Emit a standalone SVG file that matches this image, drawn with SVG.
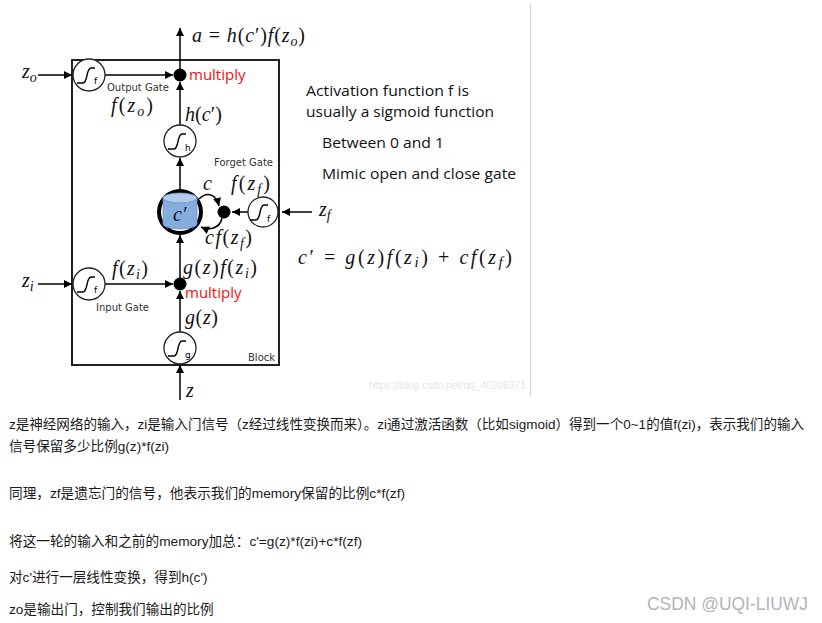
<svg xmlns="http://www.w3.org/2000/svg" width="822" height="623" viewBox="0 0 822 623">
<style>
.ln{stroke:#000;stroke-width:1.5;fill:none}
.gc{fill:#fff;stroke:#222;stroke-width:1.3}
.sg{fill:none;stroke:#000;stroke-width:1.4}
.sub{font-family:"DejaVu Sans","Liberation Sans",sans-serif;font-size:9px;fill:#000}
.m{font-family:"Liberation Serif","DejaVu Serif",serif;font-size:20px;fill:#111}
.mi{font-style:italic}
.lab{font-family:"DejaVu Sans","Liberation Sans",sans-serif;font-size:10px;fill:#333}
.red{font-family:"Open Sans","Liberation Sans",sans-serif;font-size:15px;fill:#f01010}
.en{font-family:"Open Sans","Liberation Sans",sans-serif;font-size:15px;fill:#111}
.cn{font-family:"Liberation Sans","Noto Sans CJK SC",sans-serif;font-size:13.6px;fill:#1a1a1a}
</style>
<defs>
<marker id="ah" viewBox="0 0 10 10" refX="10" refY="5" markerWidth="9" markerHeight="8" markerUnits="userSpaceOnUse" orient="auto">
<path d="M0 0 L10 5 L0 10 Z" fill="#000"/>
</marker>
<path id="sig" d="M-12 8 L-6 8 C-1 8 -3 -7 2 -7 L6 -7"/>
</defs>
<rect width="822" height="623" fill="#fff"/>
<line x1="530.5" y1="3" x2="530.5" y2="397" stroke="#d8d8d8" stroke-width="1"/>

<g id="block">
<rect x="72" y="60" width="207" height="305" fill="none" stroke="#222" stroke-width="2"/>
<text class="lab" x="248" y="361">Block</text>
</g>

<g id="connectors">
<line class="ln" x1="38" y1="75" x2="72" y2="75" marker-end="url(#ah)"/>
<line class="ln" x1="105" y1="75" x2="173" y2="75" marker-end="url(#ah)"/>
<line class="ln" x1="180" y1="75" x2="180" y2="28" marker-end="url(#ah)"/>
<line class="ln" x1="180" y1="126" x2="180" y2="82" marker-end="url(#ah)"/>
<line class="ln" x1="180" y1="190" x2="180" y2="158" marker-end="url(#ah)"/>
<line class="ln" x1="180" y1="278" x2="180" y2="235" marker-end="url(#ah)"/>
<line class="ln" x1="38" y1="284" x2="72" y2="284" marker-end="url(#ah)"/>
<line class="ln" x1="105" y1="284" x2="173" y2="284" marker-end="url(#ah)"/>
<line class="ln" x1="180" y1="332" x2="180" y2="291" marker-end="url(#ah)"/>
<line class="ln" x1="180" y1="400" x2="180" y2="365" marker-end="url(#ah)"/>
<line class="ln" x1="312" y1="212" x2="282" y2="212" marker-end="url(#ah)"/>
<line class="ln" x1="248" y1="212" x2="232" y2="212" marker-end="url(#ah)"/>
<path class="ln" d="M199 199 C207 191 216 194 219 206" marker-end="url(#ah)" stroke-width="1.2"/>
<path class="ln" d="M222 218 C220 228 210 231 201 227" marker-end="url(#ah)" stroke-width="1.2"/>
</g>

<g id="output-gate">
<circle class="gc" cx="89" cy="75" r="16"/>
<use href="#sig" class="sg" x="89" y="75"/>
<text class="sub" x="94" y="84">f</text>
<text class="lab" x="107" y="91">Output Gate</text>
</g>
<g id="output-multiply">
<circle cx="180" cy="75" r="6.5" fill="#000"/>
<text class="red" x="189" y="80">multiply</text>
</g>
<g id="h-node">
<circle class="gc" cx="180" cy="141" r="16"/>
<use href="#sig" class="sg" x="180" y="141"/>
<text class="sub" x="185" y="151">h</text>
</g>
<g id="cell">
<circle cx="180" cy="212" r="21" fill="#fff" stroke="#000" stroke-width="4"/>
<path d="M163 198 L163 224 A17 5 0 0 0 197 224 L197 198 Z" fill="#86addd" stroke="#6892c8" stroke-width="0.8"/>
<ellipse cx="180" cy="198" rx="17" ry="5" fill="#b0cbec" stroke="#6892c8" stroke-width="0.8"/>
<text class="m mi" x="173" y="221" font-size="17">c′</text>
</g>
<g id="forget-multiply">
<circle cx="224" cy="212" r="6.5" fill="#000"/>
</g>
<g id="forget-gate">
<circle class="gc" cx="263" cy="212" r="15"/>
<use href="#sig" class="sg" x="262" y="212"/>
<text class="sub" x="267" y="222">f</text>
<text class="lab" x="214" y="166">Forget Gate</text>
</g>
<g id="input-gate">
<circle class="gc" cx="89" cy="284" r="16"/>
<use href="#sig" class="sg" x="89" y="284"/>
<text class="sub" x="94" y="293">f</text>
<text class="lab" x="96" y="311">Input Gate</text>
</g>
<g id="input-multiply">
<circle cx="180" cy="284" r="6.5" fill="#000"/>
<text class="red" x="185" y="298">multiply</text>
</g>
<g id="g-node">
<circle class="gc" cx="180" cy="348" r="16"/>
<use href="#sig" class="sg" x="180" y="348"/>
<text class="sub" x="185" y="358">g</text>
</g>

<g id="math-labels">
<text class="m" x="192" y="42" textLength="113" lengthAdjust="spacing"><tspan class="mi">a</tspan> = <tspan class="mi">h</tspan>(<tspan class="mi">c</tspan>′)<tspan class="mi">f</tspan>(<tspan class="mi">z</tspan><tspan class="mi" font-size="14" dy="4">o</tspan><tspan dy="-4">)</tspan></text>
<text class="m mi" x="22" y="78">z<tspan font-size="14" dy="4">o</tspan></text>
<text class="m" x="111" y="112" textLength="42" lengthAdjust="spacing"><tspan class="mi">f</tspan>(<tspan class="mi">z</tspan><tspan class="mi" font-size="14" dy="4">o</tspan><tspan dy="-4">)</tspan></text>
<text class="m" x="185" y="121" textLength="37" lengthAdjust="spacing"><tspan class="mi">h</tspan>(<tspan class="mi">c</tspan>′)</text>
<text class="m mi" x="203" y="190">c</text>
<text class="m" x="231" y="190" textLength="39" lengthAdjust="spacing"><tspan class="mi">f</tspan>(<tspan class="mi">z</tspan><tspan class="mi" font-size="14" dy="4">f</tspan><tspan dy="-4">)</tspan></text>
<text class="m" x="205" y="244" textLength="47" lengthAdjust="spacing"><tspan class="mi">cf</tspan>(<tspan class="mi">z</tspan><tspan class="mi" font-size="14" dy="4">f</tspan><tspan dy="-4">)</tspan></text>
<text class="m mi" x="319" y="216">z<tspan font-size="14" dy="4">f</tspan></text>
<text class="m" x="183" y="274" textLength="74" lengthAdjust="spacing"><tspan class="mi">g</tspan>(<tspan class="mi">z</tspan>)<tspan class="mi">f</tspan>(<tspan class="mi">z</tspan><tspan class="mi" font-size="14" dy="4">i</tspan><tspan dy="-4">)</tspan></text>
<text class="m" x="112" y="275" textLength="36" lengthAdjust="spacing"><tspan class="mi">f</tspan>(<tspan class="mi">z</tspan><tspan class="mi" font-size="14" dy="4">i</tspan><tspan dy="-4">)</tspan></text>
<text class="m mi" x="22" y="287">z<tspan font-size="14" dy="4">i</tspan></text>
<text class="m" x="185" y="324" textLength="33" lengthAdjust="spacing"><tspan class="mi">g</tspan>(<tspan class="mi">z</tspan>)</text>
<text class="m mi" x="186" y="397">z</text>
</g>

<g id="notes">
<text class="en" x="306" y="96" textLength="163" lengthAdjust="spacingAndGlyphs">Activation function f is</text>
<text class="en" x="306" y="117" textLength="188" lengthAdjust="spacingAndGlyphs">usually a sigmoid function</text>
<text class="en" x="322" y="148" textLength="122" lengthAdjust="spacingAndGlyphs">Between 0 and 1</text>
<text class="en" x="322" y="179" textLength="194" lengthAdjust="spacingAndGlyphs">Mimic open and close gate</text>
<text class="m" x="298" y="264" font-size="23" textLength="214" lengthAdjust="spacing"><tspan class="mi">c</tspan>′ = <tspan class="mi">g</tspan>(<tspan class="mi">z</tspan>)<tspan class="mi">f</tspan>(<tspan class="mi">z</tspan><tspan class="mi" font-size="15" dy="3">i</tspan><tspan dy="-3">) + </tspan><tspan class="mi">cf</tspan>(<tspan class="mi">z</tspan><tspan class="mi" font-size="15" dy="3">f</tspan><tspan dy="-3">)</tspan></text>
<text x="369" y="389" font-family="Liberation Sans, sans-serif" font-size="10.5" fill="#e6e6e6" textLength="157" lengthAdjust="spacingAndGlyphs">https://blog.csdn.net/qq_40206371</text>
</g>

<g id="body-text">
<text class="cn" x="9" y="429" font-size="13.4" textLength="795" lengthAdjust="spacingAndGlyphs">z是神经网络的输入，zi是输入门信号（z经过线性变换而来）。zi通过激活函数（比如sigmoid）得到一个0~1的值f(zi)，表示我们的输入</text>
<text class="cn" x="9" y="451">信号保留多少比例g(z)*f(zi)</text>
<text class="cn" x="9" y="498" textLength="396" lengthAdjust="spacingAndGlyphs">同理，zf是遗忘门的信号，他表示我们的memory保留的比例c*f(zf)</text>
<text class="cn" x="9" y="546" textLength="353" lengthAdjust="spacingAndGlyphs">将这一轮的输入和之前的memory加总：c'=g(z)*f(zi)+c*f(zf)</text>
<text class="cn" x="9" y="582">对c'进行一层线性变换，得到h(c')</text>
<text class="cn" x="9" y="614">zo是输出门，控制我们输出的比例</text>
<text x="647" y="610" font-family="Liberation Sans, sans-serif" font-size="17.5" fill="#b4b4b4" textLength="161" lengthAdjust="spacingAndGlyphs">CSDN @UQI-LIUWJ</text>
</g>
</svg>
